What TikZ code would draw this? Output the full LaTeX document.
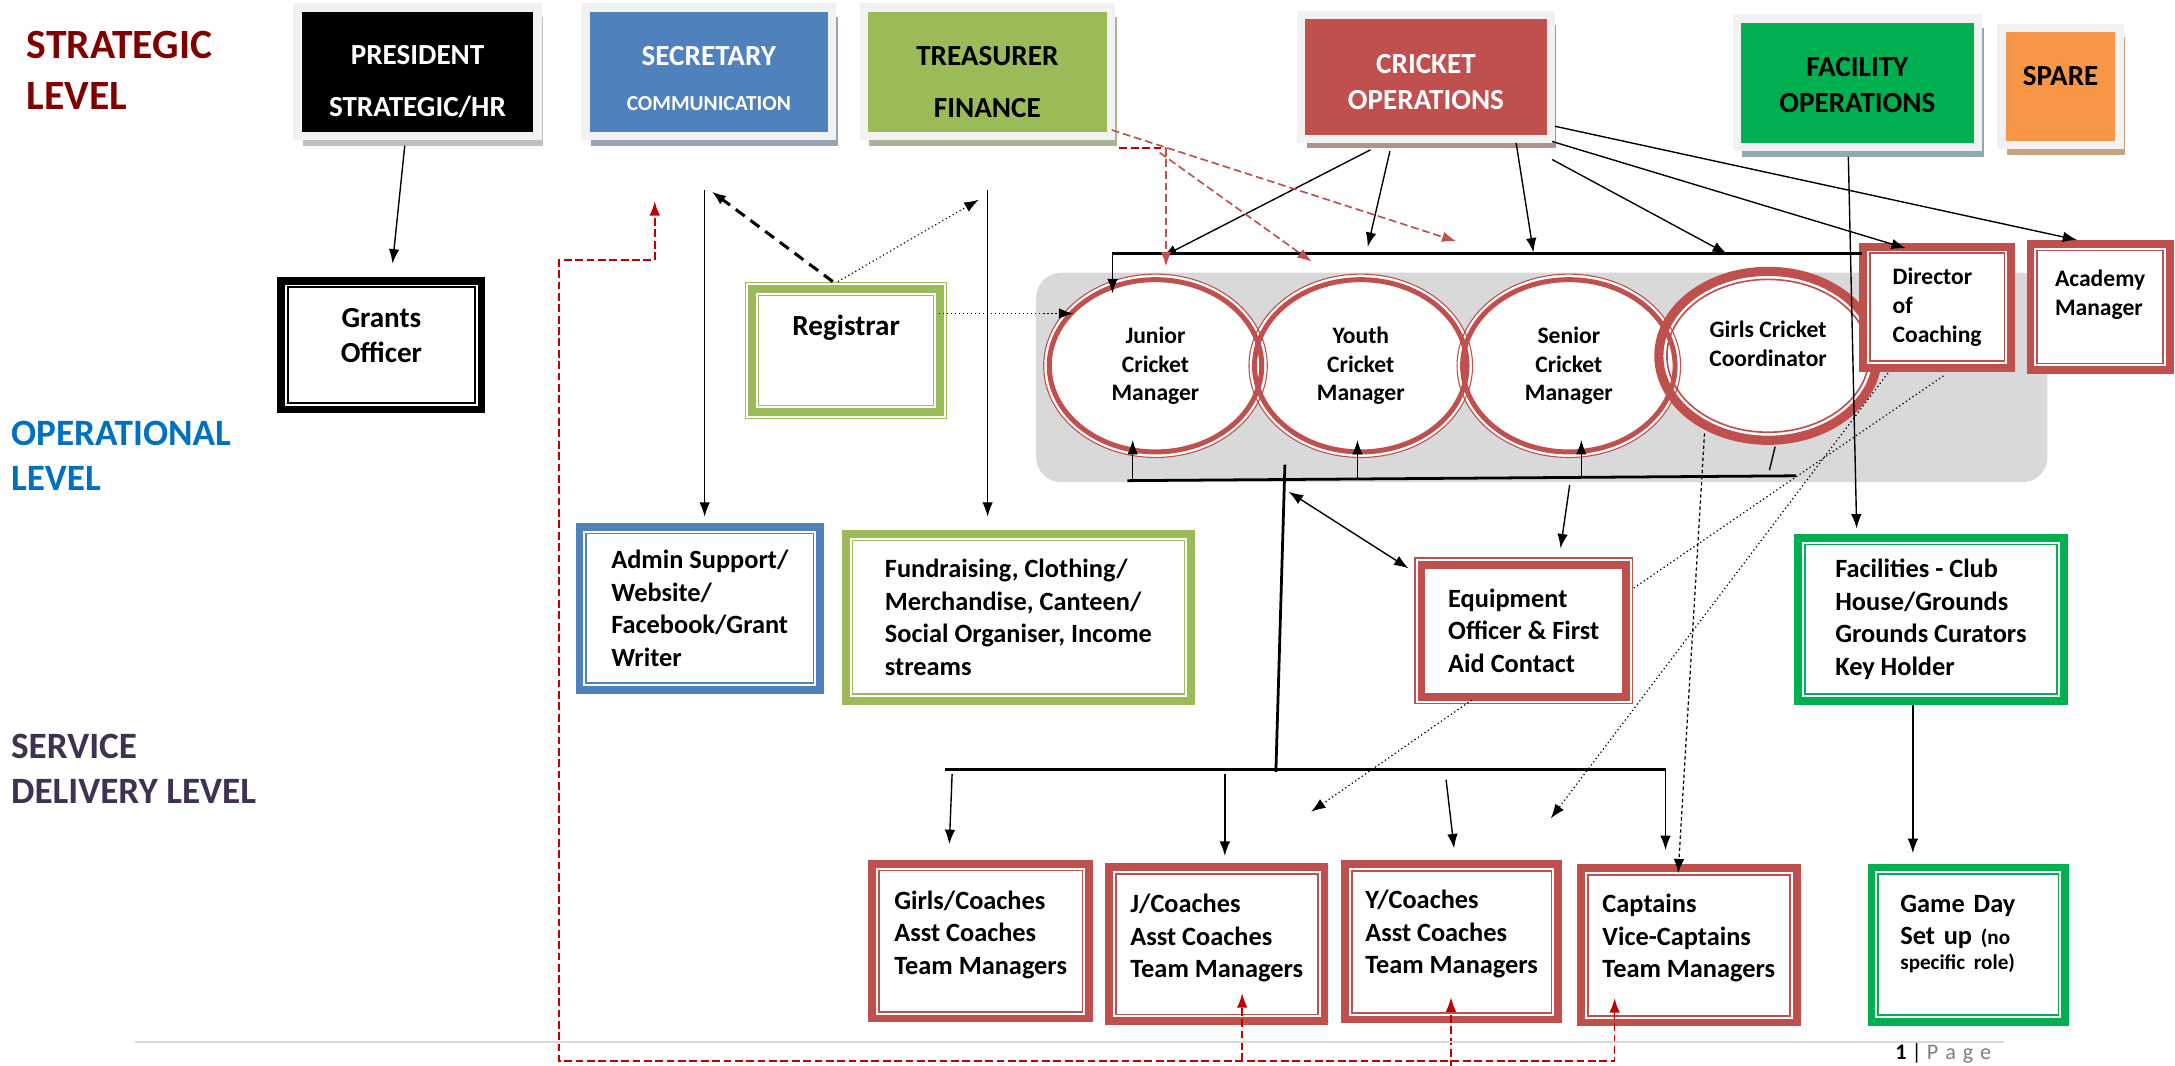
\documentclass[tikz,border=0pt]{standalone}
\usepackage{fontspec}
\setmainfont{Carlito}
\usepackage{xcolor}
\usetikzlibrary{shapes.geometric, arrows.meta, positioning, shadows}

\definecolor{stratred}{HTML}{800000}
\definecolor{opsblue}{HTML}{0070C0}
\definecolor{servpurple}{HTML}{3F3151}
\definecolor{secblue}{HTML}{4F81BD}
\definecolor{treasgreen}{HTML}{9BBB59}
\definecolor{cricred}{HTML}{C0504D}
\definecolor{facgreen}{HTML}{00B050}
\definecolor{spareorange}{HTML}{F79646}
\definecolor{framegrey}{HTML}{F2F2F2}
\definecolor{bggrey}{HTML}{D9D9D9}
\definecolor{dashred}{HTML}{C00000}
\definecolor{shgrey}{HTML}{BFBFBF}
\definecolor{shblue}{HTML}{95A3B3}
\definecolor{shgreen}{HTML}{A8B496}
\definecolor{shred}{HTML}{B09090}
\definecolor{shfac}{HTML}{90AAB4}
\definecolor{shorange}{HTML}{C9A380}
\definecolor{pagegrey}{HTML}{7F7F7F}

\begin{document}
\begin{tikzpicture}[x=0.5pt, y=-0.5pt, >={Latex[length=5.2pt, width=3.8pt]}]
    % Styles
    \tikzstyle{tierlabel} = [anchor=west, align=left, inner sep=0pt, font=\fontsize{13.4}{16.3}\selectfont\bfseries]
    \tikzstyle{line} = [draw, line width=0.5pt, ->]
    \tikzstyle{trunk} = [draw, line width=1pt]
    \tikzstyle{dots} = [draw, line width=0.45pt, densely dotted, ->]
    \tikzstyle{reddash} = [draw=dashred, line width=0.6pt, dash pattern=on 2.8pt off 1.3pt]
    \tikzstyle{redfaint} = [draw=cricred, line width=0.6pt, dash pattern=on 2.8pt off 1.4pt]
    \tikzset{
        topbox/.style 2 args={rectangle, fill=#1, draw=framegrey, line width=3pt, inner sep=0pt, align=center,
            font=\fontsize{10.5}{12.8}\selectfont\bfseries,
            drop shadow={shadow xshift=2pt, shadow yshift=-3.5pt, fill=#2, opacity=1}},
        framebox/.style={rectangle, draw=#1, line width=2.8pt, fill=white, inner sep=0pt, align=left,
            font=\fontsize{9.5}{11.7}\selectfont\bfseries,
            path picture={\draw[#1, line width=0.6pt]
                ([shift={(2.4pt,2.4pt)}]path picture bounding box.south west) rectangle
                ([shift={(-2.4pt,-2.4pt)}]path picture bounding box.north east);}},
        eqbox/.style={rectangle, draw=cricred, line width=0.5pt, fill=white, inner sep=0pt, align=left,
            font=\fontsize{9.5}{11.7}\selectfont\bfseries,
            path picture={\draw[cricred, line width=2.8pt]
                ([shift={(2.4pt,2.4pt)}]path picture bounding box.south west) rectangle
                ([shift={(-2.4pt,-2.4pt)}]path picture bounding box.north east);}},
        regbox/.style={rectangle, draw=treasgreen, line width=0.5pt, fill=white, inner sep=0pt, align=center,
            font=\fontsize{10.5}{12.8}\selectfont\bfseries,
            path picture={\draw[treasgreen, line width=2.8pt]
                ([shift={(2.35pt,2.35pt)}]path picture bounding box.south west) rectangle
                ([shift={(-2.35pt,-2.35pt)}]path picture bounding box.north east);
              \draw[treasgreen, line width=0.5pt]
                ([shift={(4.7pt,4.7pt)}]path picture bounding box.south west) rectangle
                ([shift={(-4.7pt,-4.7pt)}]path picture bounding box.north east);}},
        ring/.style={ellipse, draw=cricred, line width=0.4pt, inner sep=0pt, align=center,
            minimum width=80.6pt, minimum height=66.1pt, font=\fontsize{8.5}{10.4}\selectfont\bfseries,
            path picture={\draw[cricred, line width=1.8pt] (path picture bounding box.center)
                ellipse [x radius=38.3pt, y radius=31.05pt];}},
        girlring/.style={ellipse, draw=cricred, line width=3.3pt, inner sep=0pt, align=center,
            minimum width=78.7pt, minimum height=60.9pt, font=\fontsize{8.5}{10.4}\selectfont\bfseries,
            path picture={\draw[cricred, line width=0.6pt] (path picture bounding box.center)
                ellipse [x radius=36.45pt, y radius=27.55pt];}}
    }

    \useasboundingbox (0,0) rectangle (1568,768);

    % Level labels
    \node[tierlabel, text=stratred, font=\fontsize{15}{18.6}\selectfont\bfseries] (strategic) at (19,50.7) {STRATEGIC\\LEVEL};
    \node[tierlabel, text=opsblue] (operational) at (7.6,328.5) {OPERATIONAL\\LEVEL};
    \node[tierlabel, text=servpurple] (service) at (7.6,554.5) {SERVICE\\DELIVERY LEVEL};

    % Strategic boxes
    \node[topbox={black}{shgrey}, text=white, minimum width=86.5pt, minimum height=46.3pt] (president) at (301,51.7) {\rule{0pt}{14.1pt}PRESIDENT\\[6pt]STRATEGIC/HR};
    \node[topbox={secblue}{shblue}, text=white, minimum width=89pt, minimum height=46.3pt] (secretary) at (511,51.7) {\rule{0pt}{11.6pt}SECRETARY\\[3.4pt]{\fontsize{7.7}{9}\selectfont COMMUNICATION}};
    \node[topbox={treasgreen}{shgreen}, minimum width=89.1pt, minimum height=46.3pt, right of=secretary, node distance=100.4pt] (treasurer) {\rule{0pt}{14.1pt}TREASURER\\[6pt]FINANCE};
    \node[topbox={cricred}{shred}, text=white, minimum width=90pt, minimum height=44.5pt] (cricket) at (1028,55.5) {\rule{0pt}{10.6pt}CRICKET\\[0.4pt]OPERATIONS};
    \node[topbox={facgreen}{shfac}, minimum width=87pt, minimum height=46.3pt] (facility) at (1339,59.7) {\rule{0pt}{8.6pt}FACILITY\\OPERATIONS};
    \node[topbox={spareorange}{shorange}, minimum width=42.5pt, minimum height=42.2pt] (spare) at (1485.5,62.2) {\rule[-7.2pt]{0pt}{7.2pt}SPARE};

    % Operational group
    \fill[bggrey, rounded corners=9pt] (747,196.6) rectangle (1476,347.6);
    \coordinate (jc) at (833,263.7);
    \coordinate (yc) at (981,263.7);
    \coordinate (sc) at (1131,263.7);
    \coordinate (gc) at (1274.6,256.5);
    \fill[white] (jc) ellipse [x radius=40.3pt, y radius=33.05pt];
    \fill[white] (yc) ellipse [x radius=40.3pt, y radius=33.05pt];
    \fill[white] (sc) ellipse [x radius=40.3pt, y radius=33.05pt];
    \fill[white] (gc) ellipse [x radius=39.35pt, y radius=30.45pt];
    \node[ring] (junior) at (jc) {Junior\\Cricket\\Manager};
    \node[ring] (youth) at (yc) {Youth\\Cricket\\Manager};
    \node[ring] (senior) at (sc) {Senior\\Cricket\\Manager};
    \node[girlring] (girls) at (gc) {Girls Cricket\\Coordinator\rule[-9pt]{0pt}{0pt}};

    \node[framebox=black, font=\fontsize{10.5}{12.8}\selectfont\bfseries, align=center, minimum width=72.2pt, minimum height=46.45pt] (grants) at (275,248.75) {Grants\\Officer\rule[-7pt]{0pt}{0pt}};
    \node[regbox, minimum width=72.5pt, minimum height=49pt] (registrar) at (610,252.5) {Registrar\rule[-18pt]{0pt}{0pt}};
    \node[framebox=cricred, font=\fontsize{8.5}{10.4}\selectfont\bfseries, minimum width=53.4pt, minimum height=43.7pt] (director) at (1396.5,221.5) {Director\\of\\Coaching};
    \node[framebox=cricred, font=\fontsize{8.5}{10.4}\selectfont\bfseries, minimum width=50.2pt, minimum height=45.5pt] (academy) at (1514,221.3) {Academy\\Manager\rule[-10.5pt]{0pt}{0pt}};

    \node[framebox=secblue, minimum width=86.7pt, minimum height=58.7pt] (admin) at (504.5,438.5) {Admin Support/\\Website/\\Facebook/Grant\\Writer};
    \node[framebox=treasgreen, minimum width=124.4pt, minimum height=60.2pt] (fundraising) at (734.2,445) {Fundraising, Clothing/\\Merchandise, Canteen/\\Social Organiser, Income\\streams};
    \node[eqbox, minimum width=78.5pt, minimum height=52.4pt] (equipment) at (1098.5,454.7) {Equipment\\Officer \& First\\Aid Contact};
    \node[framebox=facgreen, minimum width=95.7pt, minimum height=58.7pt] (facilities) at (1392,446.5) {Facilities - Club\\House/Grounds\\Grounds Curators\\Key Holder};

    % Service delivery boxes
    \node[framebox=cricred, minimum width=78.2pt, minimum height=55.7pt] (girlscoach) at (707,678.5) {Girls/Coaches\\Asst Coaches\\Team Managers\rule[-6.3pt]{0pt}{0pt}};
    \node[framebox=cricred, minimum width=77.7pt, minimum height=55.5pt] (jcoach) at (877.2,680.7) {J/Coaches\\Asst Coaches\\Team Managers\rule[-6pt]{0pt}{0pt}};
    \node[framebox=cricred, minimum width=76.7pt, minimum height=56pt] (ycoach) at (1046.5,678.9) {Y/Coaches\\Asst Coaches\\Team Managers\rule[-6.9pt]{0pt}{0pt}};
    \node[framebox=cricred, minimum width=77.7pt, minimum height=55.7pt] (captains) at (1217.5,681.5) {Captains\\Vice-Captains\\Team Managers\rule[-6.9pt]{0pt}{0pt}};
    \node[framebox=facgreen, text width=49pt, minimum width=69.9pt, minimum height=55.7pt] (gameday) at (1419,681) {Game Day\\Set up {\fontsize{7.6}{9}\selectfont (no}\\[-2.7pt]{\fontsize{7.6}{9}\selectfont specific role)}\rule[-8.8pt]{0pt}{0pt}};

    % Edges
    \coordinate (presfoot) at (291.8,105);
    \coordinate (grantshead) at (283,190);
    \draw[line] (presfoot) -- (grantshead);

    \coordinate (sectop) at (508,137);
    \coordinate (adminhead) at (508,372.5);
    \draw[line] (sectop) -- (adminhead);
    \coordinate (treastop) at (712,137);
    \coordinate (fundhead) at (712,372.5);
    \draw[line] (treastop) -- (fundhead);

    \coordinate (regtopA) at (600.4,203);
    \coordinate (regtopB) at (604,203);
    \coordinate (regright) at (676.7,226);
    \coordinate (secnear) at (513,138);
    \coordinate (treasnear) at (705.6,144);
    \coordinate (juniorleft) at (773.8,226);
    \draw[line width=1.1pt, dash pattern=on 4pt off 2.6pt, ->] (regtopA) -- (secnear);
    \draw[dots, line width=0.4pt] (regtopB) -- (treasnear);
    \draw[dots] (regright) -- (juniorleft);

    \coordinate (coA) at (988,108);
    \coordinate (barjun) at (838,185);
    \coordinate (coB) at (1002,109);
    \coordinate (baryouth) at (986,178);
    \coordinate (coC) at (1093,103);
    \coordinate (barsen) at (1105.5,182);
    \coordinate (coD) at (1119,115);
    \coordinate (bargirls) at (1245,183);
    \coordinate (coE) at (1119,102);
    \coordinate (dirhead) at (1374,179);
    \coordinate (coF) at (1121,91);
    \coordinate (acadhead) at (1497.5,173);
    \draw[line] (coA) -- (barjun);
    \draw[line] (coB) -- (baryouth);
    \draw[line] (coC) -- (barsen);
    \draw[line] (coD) -- (bargirls);
    \draw[line] (coE) -- (dirhead);
    \draw[line] (coF) -- (acadhead);

    \coordinate (topbarL) at (802,183);
    \coordinate (topbarR) at (1342,183);
    \coordinate (juniorhead) at (802,211.5);
    \draw[trunk] (topbarL) -- (topbarR);
    \draw[line] (topbarL) -- (juniorhead);

    \coordinate (facfoot) at (1332.5,113);
    \coordinate (facilhead) at (1338.5,381);
    \draw[line] (facfoot) -- (facilhead);
    \coordinate (facilfoot) at (1379,508);
    \coordinate (gamehead) at (1379,615);
    \draw[line] (facilfoot) -- (gamehead);

    \coordinate (lowbarL) at (812.8,346.5);
    \coordinate (lowbarR) at (1294.7,343);
    \draw[trunk] (lowbarL) -- (lowbarR);
    \coordinate (lowJ) at (816.6,346.3);
    \coordinate (juniorfoot) at (816.6,317.2);
    \coordinate (lowY) at (978.6,345);
    \coordinate (youthfoot) at (978.6,317.2);
    \coordinate (lowS) at (1140,344);
    \coordinate (seniorfoot) at (1140,317.2);
    \draw[line] (lowJ) -- (juniorfoot);
    \draw[line] (lowY) -- (youthfoot);
    \draw[line] (lowS) -- (seniorfoot);
    \coordinate (girlsfoot) at (1279.7,322);
    \coordinate (lowG) at (1275.6,339);
    \draw[line width=0.5pt] (girlsfoot) -- (lowG);

    \coordinate (stemtop) at (926.3,335);
    \coordinate (stemfoot) at (919.8,556.4);
    \draw[trunk] (stemtop) -- (stemfoot);
    \coordinate (stemmid) at (929,354.5);
    \coordinate (equiphead) at (1015.4,409.7);
    \draw[line, <->] (stemmid) -- (equiphead);
    \coordinate (lowE) at (1131.6,349.7);
    \coordinate (equiptop) at (1125,395.3);
    \draw[line] (lowE) -- (equiptop);

    \coordinate (servL) at (681.3,554.5);
    \coordinate (servR) at (1200.7,554.5);
    \coordinate (capthead) at (1200.7,612.8);
    \draw[trunk, line width=1.1pt] (servL) -- (servR);
    \draw[line] (servR) -- (capthead);
    \coordinate (servG) at (686.4,558);
    \coordinate (girlshead) at (684.4,608.5);
    \coordinate (servJ) at (883,558);
    \coordinate (jhead) at (883,617);
    \coordinate (servY) at (1042.5,562);
    \coordinate (yhead) at (1048.3,611.6);
    \draw[line] (servG) -- (girlshead);
    \draw[line] (servJ) -- (jhead);
    \draw[line] (servY) -- (yhead);

    % Dotted links
    \coordinate (dirfootA) at (1401,271);
    \coordinate (equipright) at (1177.4,424.2);
    \draw[line width=0.45pt, densely dotted] (dirfootA) -- (equipright);
    \coordinate (dirfootB) at (1361,269);
    \coordinate (ynear) at (1118,590);
    \draw[dots] (dirfootB) -- (ynear);
    \coordinate (equipfoot) at (1061,504.7);
    \coordinate (jnear) at (945.2,585.2);
    \draw[dots] (equipfoot) -- (jnear);
    \coordinate (girlsedge) at (1228.8,312.4);
    \coordinate (captnear) at (1209.8,629.6);
    \draw[line width=0.45pt, dash pattern=on 1.2pt off 1pt, ->] (girlsedge) -- (captnear);

    % Red dashed links
    \coordinate (captred) at (1164,719.6);
    \coordinate (redR) at (1164,765);
    \coordinate (redL) at (403,765);
    \coordinate (redUp) at (403,187.5);
    \coordinate (redStep) at (472,187.5);
    \coordinate (secred) at (472,145);
    \draw[reddash, <->] (captred) -- (redR) -- (redL) -- (redUp) -- (redStep) -- (secred);
    \coordinate (redJ) at (895.5,765);
    \coordinate (jred) at (895.5,716);
    \draw[reddash, ->] (redJ) -- (jred);
    \coordinate (redY) at (1046,770);
    \coordinate (yred) at (1046,719);
    \draw[reddash, ->] (redY) -- (yred);

    \coordinate (treascorner) at (801.5,93.7);
    \coordinate (seniornear) at (1050,174);
    \draw[redfaint, ->] (treascorner) -- (seniornear);
    \coordinate (treasbend) at (836,110);
    \coordinate (youthnear) at (945.7,188.7);
    \draw[redfaint, ->] (treasbend) -- (youthnear);
    \coordinate (treasedge) at (807,106.5);
    \coordinate (redelbow) at (840.6,106.5);
    \coordinate (juniortop) at (840.6,192);
    \draw[reddash] (treasedge) -- (redelbow);
    \draw[redfaint, ->] (redelbow) -- (juniortop);

    % Footer
    \coordinate (footL) at (97,751);
    \coordinate (footR) at (1445,751);
    \draw[bggrey, line width=0.7pt] (footL) -- (footR);
    \node[anchor=base west, inner sep=0pt, font=\fontsize{8}{9.6}\selectfont] (pagenum) at (1366,764) {\textbf{1} | {\color{pagegrey}P\hspace{2.5pt}a\hspace{2.5pt}g\hspace{2.5pt}e}};

\end{tikzpicture}
\end{document}
